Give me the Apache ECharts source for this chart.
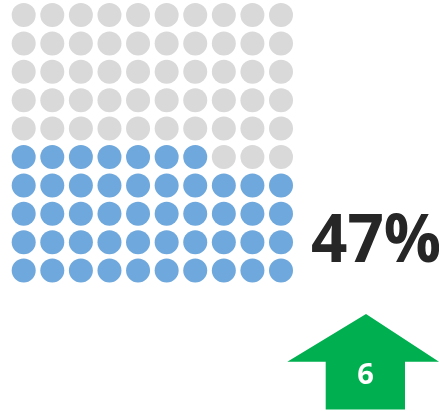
<!DOCTYPE html>
<html>
<head>
<meta charset="utf-8">
<script src="https://cdn.jsdelivr.net/npm/echarts@6/dist/echarts.min.js"></script>
<style>
  html, body { margin: 0; padding: 0; background: #fff; }
  #chart { width: 439px; height: 411px; }
</style>
</head>
<body>
<div id="chart"></div>
<script>
// Share shown as a 10x10 waffle of dots, plus the change versus last period
const percentValue = 47;
const changeValue = 6;
const gridColumns = 10;
const gridRows = 10;

const filledColor = '#6FA8DC';
const emptyColor = '#D9D9D9';

// Fill order: bottom row first, left to right, moving upward
const filledDots = [];
const emptyDots = [];
for (let r = 0; r < gridRows; r++) {
  for (let c = 0; c < gridColumns; c++) {
    const index = r * gridColumns + c;
    (index < percentValue ? filledDots : emptyDots).push([c, r]);
  }
}

const chart = echarts.init(document.getElementById('chart'), null, { renderer: 'canvas' });

const hidden = { show: false };
chart.setOption({
  animation: false,
  grid: { left: 9.4, right: 439 - 295.3, top: 0.8, bottom: 411 - 284.8 },
  xAxis: { type: 'value', min: -0.5, max: gridColumns - 0.5,
           axisLine: hidden, axisTick: hidden, axisLabel: hidden, splitLine: hidden },
  yAxis: { type: 'value', min: -0.5, max: gridRows - 0.5,
           axisLine: hidden, axisTick: hidden, axisLabel: hidden, splitLine: hidden },
  series: [
    { type: 'scatter', data: emptyDots, symbol: 'circle', symbolSize: 24,
      itemStyle: { color: emptyColor, opacity: 1 }, silent: true },
    { type: 'scatter', data: filledDots, symbol: 'circle', symbolSize: 24,
      itemStyle: { color: filledColor, opacity: 1 }, silent: true }
  ],
  graphic: [
    {
      type: 'text',
      x: 311, y: 243,
      scaleX: 0.965,
      style: {
        text: percentValue + '%',
        fontFamily: 'Open Sans',
        fontWeight: 'bold',
        fontSize: 66,
        fill: '#262626',
        align: 'left',
        verticalAlign: 'middle'
      }
    },
    {
      type: 'polygon',
      shape: {
        points: [[366, 314], [439, 361.7], [405, 361.7], [405, 409.5],
                 [325.7, 409.5], [325.7, 361.7], [287.3, 361.7]]
      },
      style: { fill: '#00B050' }
    },
    {
      type: 'text',
      x: 365.5, y: 376,
      style: {
        text: String(changeValue),
        fontFamily: 'Open Sans',
        fontWeight: 'bold',
        fontSize: 29,
        fill: '#FFFFFF',
        align: 'center',
        verticalAlign: 'middle'
      }
    }
  ]
});
</script>
</body>
</html>
